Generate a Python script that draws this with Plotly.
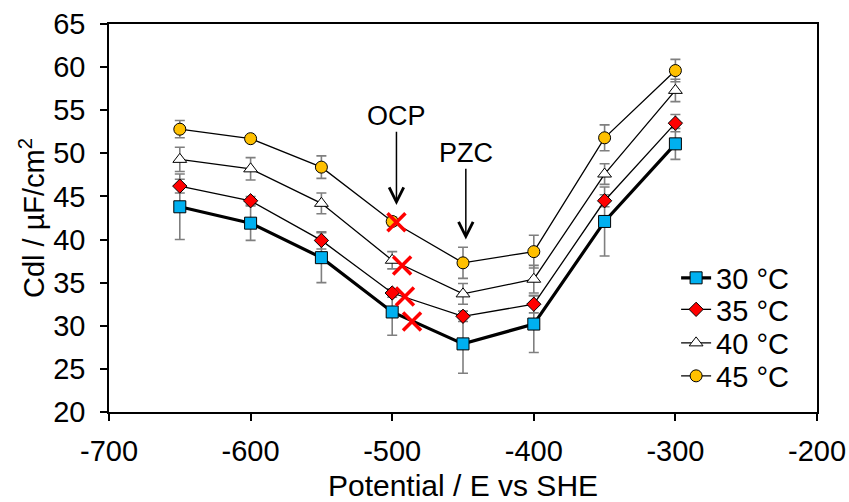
import plotly.graph_objects as go

potential = [-650, -600, -550, -500, -450, -400, -350, -300]

cdl_30 = [43.8, 41.9, 37.9, 31.6, 27.9, 30.2, 42.1, 51.1]
err_30 = [3.8, 2.0, 2.9, 2.7, 3.4, 3.3, 4.0, 1.8]

cdl_35 = [46.2, 44.5, 39.9, 33.8, 31.1, 32.5, 44.5, 53.5]
err_35 = [0.8, 0.5, 1.0, 0.5, 0.6, 1.0, 0.7, 1.0]

cdl_40 = [49.3, 48.2, 44.2, 37.6, 33.7, 35.4, 47.6, 57.3]
err_40 = [1.4, 1.3, 1.2, 1.0, 1.2, 1.6, 1.2, 1.3]

cdl_45 = [52.8, 51.7, 48.4, 42.1, 37.3, 38.6, 51.8, 59.6]
err_45 = [1.0, 0.3, 1.3, 0.5, 1.8, 1.9, 1.5, 1.3]

series_names = ["30 °C", "35 °C", "40 °C", "45 °C"]

x_tick_vals = [-700, -600, -500, -400, -300, -200]
x_tick_text = ["-700", "-600", "-500", "-400", "-300", "-200"]
y_tick_vals = [20, 25, 30, 35, 40, 45, 50, 55, 60, 65]
y_tick_text = ["20", "25", "30", "35", "40", "45", "50", "55", "60", "65"]

# red crosses marking the OCP points
ocp_x = [-497, -493, -491, -486]
ocp_y = [42.0, 37.0, 33.4, 30.5]

FONT = "Liberation Sans, Arial, sans-serif"

styles = [
    dict(symbol="square", color="#00B0F0", size=12, lw=3.2),
    dict(symbol="diamond", color="#FF0000", size=11, lw=1.3),
    dict(symbol="triangle-up", color="#FFFFFF", size=12, lw=1.3),
    dict(symbol="circle", color="#FFC000", size=12, lw=1.3),
]

data = [(cdl_30, err_30), (cdl_35, err_35), (cdl_40, err_40), (cdl_45, err_45)]
legend_ids = ["legend", "legend2", "legend3", "legend4"]

fig = go.Figure()
for (vals, errs), name, st, lg in zip(data, series_names, styles, legend_ids):
    fig.add_trace(go.Scatter(
        x=potential, y=vals, name=name, mode="lines+markers", legend=lg,
        line=dict(color="black", width=st["lw"]),
        marker=dict(symbol=st["symbol"], size=st["size"], color=st["color"],
                    line=dict(color="black", width=1)),
        error_y=dict(type="data", array=errs, visible=True,
                     color="#7F7F7F", thickness=1.6, width=5),
    ))

fig.add_trace(go.Scatter(
    x=ocp_x, y=ocp_y, mode="markers", showlegend=False, hoverinfo="skip",
    marker=dict(symbol="x-thin", size=18, color="#FF0000",
                line=dict(color="#FF0000", width=3.5)),
))

# labels with arrows pointing down at OCP and PZC
fig.add_annotation(x=-497, y=44.0, ax=-497, ay=54.3, axref="x", ayref="y",
                   text="OCP", showarrow=True, arrowhead=5, arrowsize=1.9,
                   arrowwidth=1.5, arrowcolor="black", borderpad=0,
                   font=dict(family=FONT, size=27, color="black"))
fig.add_annotation(x=-448, y=40.0, ax=-448, ay=50.0, axref="x", ayref="y",
                   text="PZC", showarrow=True, arrowhead=5, arrowsize=1.9,
                   arrowwidth=1.5, arrowcolor="black", borderpad=0,
                   font=dict(family=FONT, size=27, color="black"))

axis_common = dict(
    showline=True, linecolor="black", linewidth=1.5, mirror=True,
    ticks="outside", ticklen=7, tickwidth=1.5, tickcolor="black",
    showgrid=False, zeroline=False, automargin=False,
    tickfont=dict(family=FONT, size=29, color="black"),
)

fig.update_xaxes(range=[-700, -200], tickmode="array",
                 tickvals=x_tick_vals, ticktext=x_tick_text,
                 ticklabelstandoff=5,
                 title=dict(text="Potential / E vs SHE",
                            font=dict(family=FONT, size=30, color="black"),
                            standoff=15),
                 **axis_common)
fig.update_yaxes(range=[20, 65], tickmode="array",
                 tickvals=y_tick_vals, ticktext=y_tick_text,
                 ticklabelstandoff=9,
                 title=dict(text="Cdl / µF/cm<sup>2</sup>",
                            font=dict(family=FONT, size=29, color="black"),
                            standoff=0),
                 **axis_common)

legend_y = [0.3454, 0.2642, 0.1778, 0.0928]
leg_common = dict(x=0.801, xanchor="left", yanchor="middle",
                  bgcolor="rgba(0,0,0,0)",
                  font=dict(family=FONT, size=29, color="black"))
legends = {lg: dict(y=yv, **leg_common) for lg, yv in zip(legend_ids, legend_y)}

fig.update_layout(
    width=849, height=502,
    margin=dict(l=109, r=32, t=24, b=90),
    paper_bgcolor="white", plot_bgcolor="white",
    font=dict(family=FONT, color="black"),
    showlegend=True,
    **legends,
)

fig.write_html("out.html")
